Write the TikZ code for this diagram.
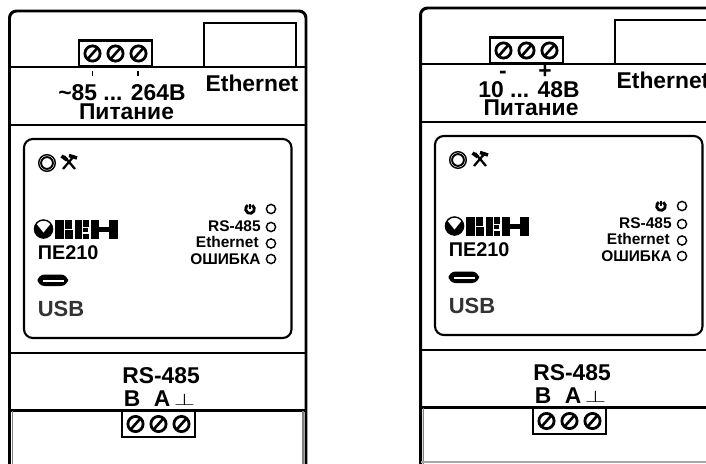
\documentclass[tikz,border=0pt]{standalone}
\usepackage{fontspec}
\setmainfont{Liberation Sans}

\tikzset{
    screw/.pic={
        \draw[line width=1.6pt] (0,0) circle (7.6);
        \draw[line width=1.5pt] (-4.6,5.2) -- (4.6,-5.2);
    },
    terminal/.pic={
        \draw[line width=1.5pt, fill=white] (0,0) rectangle (73,26);
        \foreach \sx in {13.5,36.5,59.5}
            \pic at (\sx,13) {screw};
    }
}

\begin{document}
\begin{tikzpicture}[
        x=0.02cm, y=-0.02cm,
        font=\bfseries,
        body/.style={line width=1.7pt},
        sep/.style={line width=1.5pt},
        led/.style={line width=0.8pt, fill=white},
        lab/.style={font=\fontsize{13}{13}\bfseries\selectfont, inner sep=0pt},
        ledlab/.style={font=\fontsize{8.8}{9}\bfseries\selectfont, inner sep=0pt, anchor=east}
    ]
    \useasboundingbox (0,0) rectangle (706,463);
    \clip (0,0) rectangle (706,463);

    % --- Parts shared by both devices ---
    \foreach \ox/\oy/\tag in {0/0/L, 411/-3/R} {
        \begin{scope}[shift={(\ox,\oy)}]
            % Housing
            \draw[body, rounded corners=4] (9.5,470) -- (9.5,11) -- (306,11) -- (306,470);
            \draw[sep] (9.5,67) -- (306,67);
            \draw[sep] (9.5,125) -- (306,125);
            \draw[sep] (9.5,353) -- (306,353);
            \draw[sep] (9.5,410.5) -- (306,410.5);
            \draw[gray, line width=0.6pt] (12.5,411) -- (12.5,470);
            \draw[gray, line width=0.6pt] (303,411) -- (303,470);

            % Ethernet socket and terminal blocks
            \draw[line width=1.2pt] (204,67) -- (204,23) -- (296,23) -- (296,67);
            \pic at (79,40.5) {terminal};
            \pic at (122,411) {terminal};
            \node[lab] (eth\tag) at (252,83) {Ethernet};

            % Front panel
            \draw[line width=1.2pt, rounded corners=5] (24,139) rectangle (291.5,338);

            % Reset button and tool mark
            \draw[line width=0.8pt] (47,163) circle (8.3);
            \draw[line width=1.1pt] (47,163) circle (5.9);
            \draw[line width=1.3pt] (64,156) -- (75,169);
            \draw[line width=1.3pt] (74,156) -- (63,169);
            \draw[line width=2pt] (61.5,156) -- (67,160);
            \draw[line width=2pt] (69,155.5) -- (77,158);

            % Logo
            \fill (43.5,229) circle (9.8);
            \begin{scope}
                \clip (43.5,229) circle (8.2);
                \fill[white] (43.5,232.5) -- (31,217) -- (56,217) -- cycle;
            \end{scope}
            \fill (55,220) rectangle (64,238.5);
            \fill (65,220) rectangle (72,228.5);
            \fill (65,230) rectangle (73,238.5);
            \fill (75,220) rectangle (81.5,238.5);
            \fill (82.5,220) rectangle (89,226.5);
            \fill (82.5,228) rectangle (87.5,232);
            \fill (82.5,233.5) rectangle (89,238.5);
            \fill (91,220) rectangle (98.5,238.5);
            \fill (98.5,227) rectangle (109,231.5);
            \fill (109,220) rectangle (118,238.5);

            % Model and USB
            \node[font=\fontsize{11.3}{12}\bfseries\selectfont, inner sep=0pt, anchor=west] (model\tag) at (37.5,253) {ПЕ210};
            \fill[rounded corners=4] (37.5,274.5) rectangle (68,286);
            \fill[white] (42.5,279.5) rectangle (63.5,282);
            \node[font=\fontsize{12.5}{13}\bfseries\selectfont, inner sep=0pt, anchor=west, text=black!80] (usb\tag) at (37.5,308.5) {USB};

            % Indicators
            \foreach \ly in {209, 227, 243.5, 259}
                \draw[led] (271,\ly) circle (4.6);
            \draw[line width=1.6pt] (252.2,205.2) arc (300:600:4.4);
            \draw[line width=1.4pt] (250,203.5) -- (250,209);
            \node[ledlab] (rs\tag) at (261,226) {RS-485};
            \node[ledlab] (en\tag) at (259,242) {Ethernet};
            \node[ledlab] (err\tag) at (261,259) {ОШИБКА};

            % Serial port labels
            \node[lab] (bus\tag) at (161,376) {RS-485};
            \node[lab] (b\tag) at (132,399) {B};
            \node[lab] (a\tag) at (162,399) {A};
            \node[inner sep=0pt, font=\fontsize{13}{13}\selectfont] (g\tag) at (184.5,399.5) {\scalebox{1.3}[0.8]{$\perp$}};
        \end{scope}
    }
    \draw[gray!70, line width=0.7pt] (421,462) -- (706,462);

    % --- Supply labels, left device ---
    \draw[line width=1pt] (92.5,71) -- (92.5,76);
    \draw[line width=1pt] (138,71) -- (138,76);
    \node[lab] (range) at (122,93) {\textasciitilde85 ... 264В};
    \node[lab] (supply) at (126.5,112) {Питание};

    % --- Supply labels, right device ---
    \node[lab] (minus) at (503,75) {-};
    \node[lab] (plus) at (545,72) {+};
    \node[lab] (rangeR) at (529,90) {10 ... 48В};
    \node[lab] (supplyR) at (531,108) {Питание};
\end{tikzpicture}
\end{document}
